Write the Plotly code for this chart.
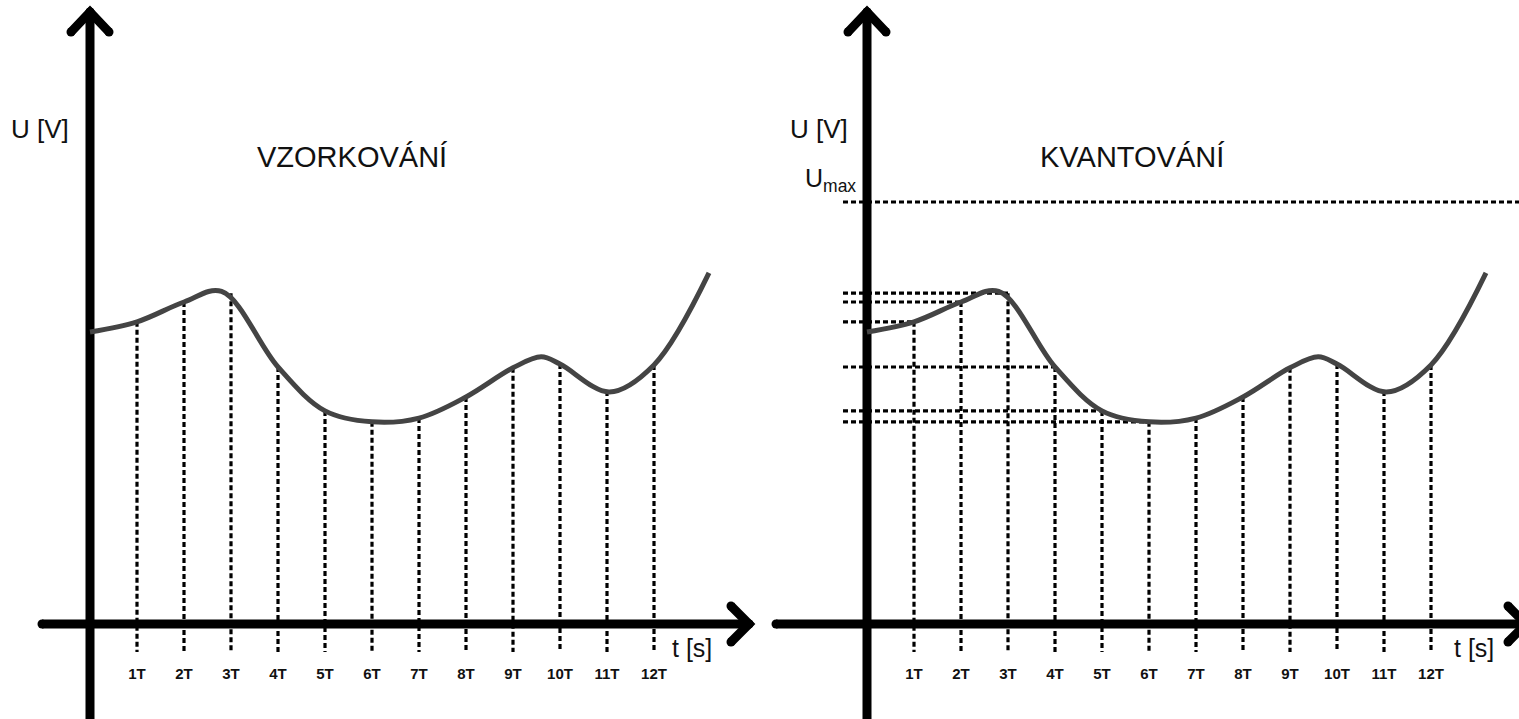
import plotly.graph_objects as go

# ---- data -------------------------------------------------------------
periods = list(range(1, 13))                      # sampling instants k*T
tick_labels = [f"{k}T" for k in periods]
# signal value at each sampling instant [V]
samples = [7.16, 7.63, 7.84, 6.09, 5.05, 4.79, 4.88, 5.38, 6.07, 6.16, 5.52, 6.14]
# knots of the continuous signal U(t), t in multiples of T
curve_t = [0, 1, 2, 2.8, 4, 5, 6, 7, 8, 9, 9.6, 10, 11.05, 12, 13.17]
curve_u = [6.92, 7.16, 7.63, 7.88, 6.09, 5.05, 4.79, 4.88, 5.38, 6.07, 6.33, 6.16, 5.50,
           6.14, 8.32]
u_max = 10.0
quantized_count = 6        # levels drawn on the quantisation panel

# ---- geometry ---------------------------------------------------------
W, H = 1519, 719
T_PX, U_PX = 47.0, 42.2            # pixels per period / per volt
ORIG_L, ORIG_R, ORIG_Y = 90, 867, 624
SPLIT = 765

xr_left = [(0 - ORIG_L) / T_PX, (SPLIT - ORIG_L) / T_PX]
xr_right = [(SPLIT - ORIG_R) / T_PX, (W - ORIG_R) / T_PX]
yr = [(ORIG_Y - H) / U_PX, ORIG_Y / U_PX]

AXIS_W = 9
AXIS_C = "black"
CURVE_C = "#444444"
DASH = dict(color="black", width=3.2, dash="5px,3px")

u_foot = (ORIG_Y - 652) / U_PX          # lower end of the sample markers
u_lbl = (ORIG_Y - 675) / U_PX           # row of k*T labels
t_hline0 = (843 - ORIG_R) / T_PX        # left end of horizontal guides

fig = go.Figure()


def poly(xa, xs, ys, **kw):
    fig.add_trace(go.Scatter(x=xs, y=ys, xaxis=xa, yaxis="y", mode="lines",
                             hoverinfo="skip", **kw))


def axes(xa, x_start_px, x_origin_px):
    # vertical U axis and horizontal t axis, both with chevron heads
    top = (ORIG_Y - 12) / U_PX
    wing_u = (ORIG_Y - 32) / U_PX
    wing_t = 19 / T_PX
    x_left = (x_start_px + 4 - x_origin_px) / T_PX
    x_tip = (749 - ORIG_L) / T_PX
    wing_x = (731 - ORIG_L) / T_PX
    wing_du = 18 / U_PX
    style = dict(line=dict(color=AXIS_C, width=AXIS_W),
                 mode="lines+markers",
                 marker=dict(size=AXIS_W, color=AXIS_C))
    for xs, ys in [
        ([0, 0], [yr[0] - 1, top]),
        ([-wing_t, 0, wing_t], [wing_u, top, wing_u]),
        ([x_left, x_tip], [0, 0]),
        ([wing_x, x_tip, wing_x], [wing_du, 0, -wing_du]),
    ]:
        fig.add_trace(go.Scatter(x=xs, y=ys, xaxis=xa, yaxis="y",
                                 hoverinfo="skip", cliponaxis=True, **style))


def sample_lines(xa):
    xs, ys = [], []
    for k, u in zip(periods, samples):
        xs += [k, k, None]
        ys += [u, u_foot, None]
    poly(xa, xs, ys, line=DASH)


def curve(xa):
    poly(xa, curve_t, curve_u,
         line=dict(color=CURVE_C, width=5, shape="spline", smoothing=1.0))


def tick_text(xa):
    fig.add_trace(go.Scatter(x=periods, y=[u_lbl] * len(periods), xaxis=xa, yaxis="y",
                             mode="text", text=tick_labels, hoverinfo="skip",
                             textfont=dict(family="Liberation Sans", size=15,
                                           color="#111111", weight="bold")))


# left panel: sampling
sample_lines("x")
axes("x", 38, ORIG_L)
curve("x")
tick_text("x")

# right panel: quantisation
hx, hy = [], []
for k, u in zip(periods[:quantized_count], samples[:quantized_count]):
    hx += [t_hline0, k, None]
    hy += [u, u, None]
poly("x2", hx, hy, line=DASH)
poly("x2", [t_hline0, xr_right[1] + 1], [u_max, u_max], line=DASH)
sample_lines("x2")
axes("x2", 772, ORIG_R)
curve("x2")
tick_text("x2")

# ---- text -------------------------------------------------------------
FONT = "Liberation Sans, Arial, sans-serif"


def label(xa, t, u, text, size, anchor="center"):
    fig.add_annotation(x=t, y=u, xref=xa, yref="y", text=text, showarrow=False,
                       xanchor=anchor, yanchor="middle",
                       font=dict(family=FONT, size=size, color="#111111"))


label("x", (40 - ORIG_L) / T_PX, (ORIG_Y - 129) / U_PX, "U [V]", 26)
label("x", (352 - ORIG_L) / T_PX, (ORIG_Y - 157) / U_PX, "VZORKOVÁNÍ", 29)
label("x", (692 - ORIG_L) / T_PX, (ORIG_Y - 648) / U_PX, "t [s]", 25)

label("x2", (819 - ORIG_R) / T_PX, (ORIG_Y - 129) / U_PX, "U [V]", 26)
label("x2", (1132 - ORIG_R) / T_PX, (ORIG_Y - 157) / U_PX, "KVANTOVÁNÍ", 29)
label("x2", (1474 - ORIG_R) / T_PX, (ORIG_Y - 648) / U_PX, "t [s]", 25)
label("x2", (830 - ORIG_R) / T_PX, (ORIG_Y - 180) / U_PX, "U<sub>max</sub>", 25)

hidden = dict(visible=False, showgrid=False, zeroline=False, fixedrange=True)
fig.update_layout(
    width=W, height=H,
    margin=dict(l=0, r=0, t=0, b=0, pad=0),
    paper_bgcolor="white", plot_bgcolor="white",
    showlegend=False,
    xaxis=dict(domain=[0, SPLIT / W], range=xr_left, anchor="y", **hidden),
    xaxis2=dict(domain=[SPLIT / W, 1], range=xr_right, anchor="y", **hidden),
    yaxis=dict(domain=[0, 1], range=yr, anchor="x", **hidden),
)

fig.write_html("out.html", config=dict(displayModeBar=False))
